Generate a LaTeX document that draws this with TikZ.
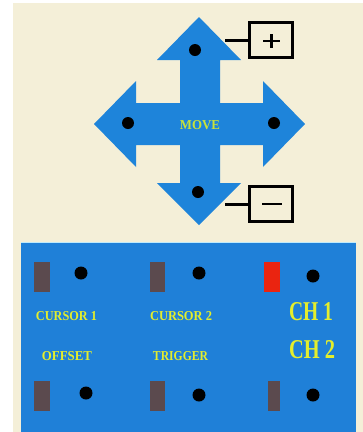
\documentclass[tikz,border=0pt]{standalone}
\usepackage{graphicx}
\usepackage{fontspec}
\setmainfont{Liberation Serif}
\definecolor{cream}{HTML}{F4EFD8}
\definecolor{panelblue}{HTML}{1F80D8}
\definecolor{arrowblue}{HTML}{1E84DA}
\definecolor{lblyellow}{HTML}{E4EE2C}
\definecolor{movegreen}{HTML}{C8E23A}
\definecolor{switchgray}{HTML}{5B4A4E}
\definecolor{switchred}{HTML}{EA2410}
\newcommand{\fitlbl}[3]{\resizebox{#1pt}{#2pt}{\bfseries #3}}
\tikzset{
  knob/.style={circle,fill=black,inner sep=0pt,minimum size=12pt},
  sw/.style={draw=none,fill=switchgray,inner sep=0pt,minimum width=16pt,minimum height=30pt},
  swred/.style={sw,fill=switchred},
  lbl/.style={inner sep=0pt,text=lblyellow},
  signbox/.style={draw=black,line width=3pt,fill=cream,minimum width=43pt,minimum height=35pt,inner sep=0pt},
  lead/.style={draw=black,line width=3pt}
}
\begin{document}
\begin{tikzpicture}[x=1pt,y=-1pt]
\useasboundingbox (0,0) rectangle (363,432);
\fill[white] (0,0) rectangle (363,432);
\fill[cream] (13,3) rectangle (363,432);
% panel
\fill[panelblue] (21,243) rectangle (356,432);
\draw[cyan!25,line width=1pt] (21,242.5) -- (356,242.5);
% cross arrow
\fill[arrowblue] (199,17) -- (241,60) -- (220,60) -- (220,103) -- (263,103) -- (263,81)
  -- (305,124) -- (263,167) -- (263,145) -- (220,145) -- (220,183) -- (241,183)
  -- (199,225) -- (157,183) -- (180,183) -- (180,145) -- (136,145) -- (136,167)
  -- (94,124) -- (136,81) -- (136,103) -- (180,103) -- (180,60) -- (157,60) -- cycle;
\node[knob] (up) at (195,50) {};
\node[knob] (left) at (128,123) {};
\node[knob] (right) at (274,123) {};
\node[knob] (down) at (198,192) {};
\node[lbl,text=movegreen] (move) at (200,125.5) {\fitlbl{40}{9}{MOVE}};
% plus / minus boxes
\node[signbox] (plus) at (270.5,40) {};
\node[signbox] (minus) at (270.5,204) {};
\coordinate (plusend) at (225,40);
\coordinate (minusend) at (225,204);
\draw[lead] (plusend) -- (plus.west);
\draw[lead] (minusend) -- (minus.west);
\draw[line width=2.5pt] (263,41) -- (280,41) (271.5,34) -- (271.5,48);
\draw[line width=2.5pt] (262,204) -- (282,204);
% panel controls row 1
\node[sw] (s1) at (41.5,277) {};
\node[knob,minimum size=13pt] (k1) at (81,273) {};
\node[sw,minimum width=15pt] (s2) at (157.5,277) {};
\node[knob,minimum size=13pt] (k2) at (199,273) {};
\node[swred] (s3) at (272,277) {};
\node[knob,minimum size=13pt] (k3) at (313,276) {};
% row 2
\node[sw] (s4) at (41.5,395.5) {};
\node[knob,minimum size=13pt] (k4) at (86,393) {};
\node[sw,minimum width=15pt] (s5) at (157.5,395.5) {};
\node[knob,minimum size=13pt] (k5) at (199,395) {};
\node[sw,minimum width=12pt] (s6) at (274,395.5) {};
\node[knob,minimum size=13pt] (k6) at (313,395) {};
% labels
\node[lbl] (c1) at (66.5,316.5) {\fitlbl{61}{9}{CURSOR 1}};
\node[lbl] (c2) at (181,316.5) {\fitlbl{62}{9}{CURSOR 2}};
\node[lbl] (off) at (67,356) {\fitlbl{50}{9}{OFFSET}};
\node[lbl] (trg) at (180.5,356) {\fitlbl{55}{9}{TRIGGER}};
\node[lbl] (ch1) at (311,312) {\fitlbl{44}{18}{CH 1}};
\node[lbl] (ch2) at (312,350) {\fitlbl{46}{18}{CH 2}};
\end{tikzpicture}
\end{document}
